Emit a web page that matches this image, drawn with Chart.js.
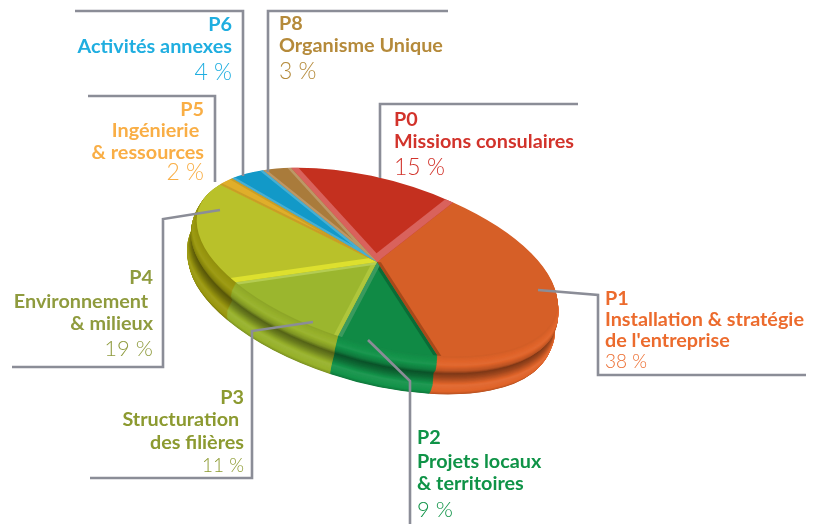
<!DOCTYPE html>
<html><head><meta charset="utf-8">
<style>html,body{margin:0;padding:0;background:#fff}#w{width:818px;height:524px;position:relative}</style>
<script src="https://cdn.jsdelivr.net/npm/chart.js@4"></script>
</head><body><div id="w"><canvas id="c" width="818" height="524"></canvas></div>
<script>
const codes = ['P0','P1','P2','P3','P4','P5','P6','P8'];
const names = [['Missions consulaires'],['Installation & stratégie','de l\'entreprise'],['Projets locaux','& territoires'],['Structuration ','des filières'],['Environnement ','& milieux'],['Ingénierie ','& ressources'],['Activités annexes'],['Organisme Unique']];
const values = [15,38,9,11,19,2,4,3];

const topColors  = ['#C4301F','#D65F27','#108A45','#9BB62E','#B9C12A','#E0AE2A','#1299C8','#A97B3B'];
const sideColors = ['#C4301F','#E0642A','#14934A','#97B12B','#9A980F','#D9A820','#1299C8','#A97B3B'];
const textColors = ['#D2332B','#EC6B2D','#0F9347','#8C9A30','#8F9B3E','#F9AE45','#1FAEE0','#B58A3A'];
const bevelA = ['#D9625C',null,'#0B6B36','#AFC63C','#DDE02E','#C99E26','#48AFD2','#BC9766'];
const bevelB = ['#D9625C','#A8491A','#3A9A5E','#B4CC52',null,'#C99E26','#48AFD2','#BC9766'];

const M = {cx:377, cy:262, a:180.3, b:41.2, d:84.9};
const DEPTH = 38, SKEW = -8;

const labelLayout = [
 {x:394,al:'left', y:[126,148],py:175,ps:23},
 {x:605,al:'left', y:[305,326,347],py:368,ps:19},
 {x:417,al:'left', y:[444,468,490],py:517,ps:22},
 {x:244,al:'right',y:[404,426,449],py:472,ps:19},
 {x:153,al:'right',y:[284,308,330],py:356,ps:22},
 {x:204,al:'right',y:[116,137,159],py:180,ps:23},
 {x:232,al:'right',y:[31,53],py:80,ps:23},
 {x:279,al:'left', y:[30,52],py:79,ps:23}
];
const leaders = [
 [[380,178],[380,104],[578,104]],
 [[538,290],[598,295],[598,375],[806,375]],
 [[368,340],[410,381],[410,524]],
 [[313,322],[252,331],[252,478],[90,478]],
 [[220,210],[163,219],[163,367],[12,367]],
 [[215,182],[215,96],[88,96]],
 [[243,176],[243,11],[75,11]],
 [[268,172],[268,11],[448,11]]
];

function shade(hex,f){
  const n=parseInt(hex.slice(1),16);
  const c=[n>>16,(n>>8)&255,n&255].map(v=>Math.max(0,Math.min(255,Math.round(f<=1?v*f:v+(255-v)*(f-1)))));
  return `rgb(${c[0]},${c[1]},${c[2]})`;
}
// wall light profile, from the rim (0) to the bottom edge (1)
const profT = [0,   .04, .2,  .34, .46, .56, .72, .9,  1];
const profF = [.9,  .96, 1.04,.84, .56, .72, 1.06,1.0, .82];
const profB = [0,   .004,.016,.018,.000,.008,.020,.012,.000];
function prof(arr,t){
  for(let i=1;i<profT.length;i++) if(t<=profT[i]){
    const u=(t-profT[i-1])/(profT[i]-profT[i-1]);
    return arr[i-1]+(arr[i]-arr[i-1])*u;
  }
  return arr[arr.length-1];
}
function applyMatrix(ctx,chart,R,ox,oy){
  const a=chart.getDatasetMeta(0).data[0];
  ctx.translate(M.cx+(ox||0),M.cy+(oy||0));
  ctx.transform(M.a/R,M.b/R,0,M.d/R,0,0);
  ctx.translate(-a.x,-a.y);
}
const pie3d = {
  id:'pie3d',
  beforeDatasetsDraw(chart){
    const ctx=chart.ctx, arcs=chart.getDatasetMeta(0).data, R=arcs[0].outerRadius;
    // extruded wall: two rounded lobes, painted from the bottom layer upward
    for(let d=DEPTH;d>=1;d-=0.5){
      const t=d/DEPTH;
      const rr=R*(1+prof(profB,t));
      arcs.forEach((el,i)=>{
        ctx.save();
        applyMatrix(ctx,chart,R,SKEW*t,d);
        ctx.beginPath();ctx.moveTo(el.x,el.y);
        ctx.arc(el.x,el.y,rr,el.startAngle,el.endAngle);
        ctx.closePath();
        ctx.fillStyle=shade(sideColors[i],prof(profF,t));
        ctx.fill();
        ctx.restore();
      });
    }
    ctx.save();
    applyMatrix(ctx,chart,R);
  },
  afterDatasetsDraw(chart){
    const ctx=chart.ctx, arcs=chart.getDatasetMeta(0).data;
    arcs.forEach((el,i)=>{
      ctx.save();
      ctx.beginPath();ctx.moveTo(el.x,el.y);
      ctx.arc(el.x,el.y,el.outerRadius,el.startAngle,el.endAngle);
      ctx.closePath();ctx.clip();
      [[el.startAngle,bevelA[i]],[el.endAngle,bevelB[i]]].forEach(([ang,col])=>{
        if(!col)return;
        ctx.strokeStyle=col;ctx.lineWidth=i===0||i===4?24:12;
        ctx.beginPath();ctx.moveTo(el.x,el.y);
        ctx.lineTo(el.x+el.outerRadius*Math.cos(ang),el.y+el.outerRadius*Math.sin(ang));
        ctx.stroke();
      });
      ctx.restore();
    });
    ctx.restore();
  },
  afterDraw(chart){
    const ctx=chart.ctx;
    ctx.save();
    ctx.strokeStyle='#8B8D97';ctx.lineWidth=2.6;ctx.lineJoin='miter';
    leaders.forEach(p=>{ctx.beginPath();p.forEach((q,i)=>i?ctx.lineTo(q[0],q[1]):ctx.moveTo(q[0],q[1]));ctx.stroke();});
    ctx.textBaseline='alphabetic';
    codes.forEach((code,i)=>{
      const L=labelLayout[i];
      ctx.fillStyle=textColors[i];ctx.textAlign=L.al;
      ctx.font='700 19.8px Lato, "Open Sans", sans-serif';
      ctx.fillText(code,L.x,L.y[0]);
      names[i].forEach((s,k)=>ctx.fillText(s,L.x,L.y[k+1]));
      ctx.font=`300 ${L.ps}px Lato, "Open Sans", sans-serif`;
      ctx.fillText(values[i]+' %',L.x,L.py);
    });
    ctx.restore();
  }
};
new Chart(document.getElementById('c'),{
  type:'pie',
  data:{labels:codes,datasets:[{data:values,backgroundColor:topColors,borderWidth:0,clip:false}]},
  options:{responsive:false,animation:false,rotation:-28.5,
    layout:{padding:0},
    plugins:{legend:{display:false},tooltip:{enabled:false}},
    events:[]},
  plugins:[pie3d]
});
</script></body></html>
